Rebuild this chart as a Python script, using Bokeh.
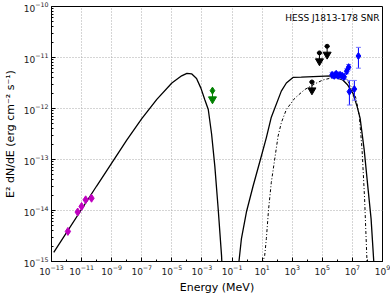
from bokeh.plotting import figure
from bokeh.models import FixedTicker, LogTickFormatter, Label
from bokeh.embed import file_html
from bokeh.resources import INLINE

# ---------------- data ----------------
# synchrotron model (solid)
sync_E = [1.41e-13, 1e-10, 1e-8, 1e-7, 1e-6, 1e-5, 4.47e-5, 1e-4, 2.04e-4, 4.37e-4,
          8.51e-4, 1.55e-3, 2.63e-3, 4.37e-3, 7.16e-3, 1.20e-2, 2.00e-2, 2.24e-2]
sync_F = [1.51e-15, 3.02e-14, 2.40e-13, 6.31e-13, 1.51e-12, 3.16e-12, 4.37e-12, 4.90e-12,
          4.79e-12, 3.89e-12, 2.51e-12, 1.48e-12, 9.55e-13, 3.16e-13, 7.41e-14, 1.07e-14,
          1.32e-15, 6.3e-16]
# inverse-Compton total (solid)
ic_E = [0.251, 0.288, 0.421, 0.902, 2.51, 8.91, 19.1, 40.7, 188, 407, 1122, 3981,
        3.89e5, 2.29e6, 4.90e6, 1.07e7, 2.04e7, 3.24e7, 6.03e7, 1.10e8, 1.74e8, 2.63e8, 2.82e8]
ic_F = [7.9e-16, 1.0e-15, 2.82e-15, 9.33e-15, 3.02e-14, 1.17e-13, 2.69e-13, 6.76e-13,
        2.19e-12, 3.16e-12, 4.07e-12, 4.12e-12, 4.37e-12, 3.63e-12, 2.88e-12, 2.0e-12,
        1.10e-12, 6.46e-13, 1.58e-13, 2.63e-14, 6.92e-15, 1.0e-15, 6.3e-16]
# second component (dash-dot)
dd_E = [10, 11.5, 14.8, 19.1, 26.9, 40.7, 115, 188, 407, 1445, 6607, 3.02e4, 1.10e5,
        8.32e5, 3.80e6, 8.13e6, 1.74e7, 2.88e7, 4.37e7, 6.46e7, 9.33e7, 1e8]
dd_F = [6.3e-16, 1.0e-15, 1.32e-15, 2.82e-15, 1.07e-14, 3.55e-14, 2.88e-13, 5.25e-13,
        9.55e-13, 1.58e-12, 2.34e-12, 3.02e-12, 3.63e-12, 4.17e-12, 3.98e-12, 2.69e-12,
        1.58e-12, 7.08e-13, 1.58e-13, 1.70e-14, 1.0e-15, 6.3e-16]
# radio points
radio_E = [1.23e-12, 5.5e-12, 1.0e-11, 1.86e-11, 4.57e-11]
radio_F = [3.89e-15, 9.33e-15, 1.20e-14, 1.62e-14, 1.74e-14]
# X-ray upper limit (green)
xul_E = [5.0e-3]
xul_F = [2.24e-12]
# GeV upper limits (black)
gul_E = [2.04e4, 6.46e4, 2.09e5]
gul_F = [3.31e-12, 1.23e-11, 1.66e-11]
gul_Elo = [1.36e4, 4.3e4, 1.39e5]
gul_Ehi = [3.06e4, 9.7e4, 3.14e5]
# HESS points (blue)
hess_E = [4.47e5, 6.17e5, 8.32e5, 1.12e6, 1.51e6, 2.09e6, 2.82e6, 4.17e6, 5.62e6,
          6.31e6, 1.35e7, 2.51e7]
hess_F = [4.57e-12, 4.37e-12, 4.79e-12, 4.37e-12, 4.57e-12, 4.37e-12, 4.17e-12,
          5.37e-12, 6.46e-12, 2.14e-12, 2.40e-12, 1.07e-11]
hess_Flo = [4.1e-12, 3.9e-12, 4.3e-12, 3.9e-12, 4.1e-12, 3.9e-12, 3.7e-12,
            4.8e-12, 5.7e-12, 1.17e-12, 1.45e-12, 6.17e-12]
hess_Fhi = [5.1e-12, 4.9e-12, 5.3e-12, 4.9e-12, 5.1e-12, 4.9e-12, 4.7e-12,
            6.0e-12, 7.3e-12, 3.55e-12, 3.55e-12, 1.58e-11]

x_major = [1e-13, 1e-11, 1e-9, 1e-7, 1e-5, 1e-3, 1e-1, 1e1, 1e3, 1e5, 1e7, 1e9]
x_minor = [10.0 ** k for k in range(-13, 10)]
y_major = [1e-15, 1e-14, 1e-13, 1e-12, 1e-11, 1e-10]
y_minor = [m * 10.0 ** k for k in range(-15, -10) for m in range(1, 10)]

# ---------------- figure ----------------
p = figure(width=390, height=296, x_axis_type="log", y_axis_type="log",
           x_range=(1e-13, 1e9), y_range=(1e-15, 1e-10),
           output_backend="svg", toolbar_location=None,
           min_border_left=50, min_border_right=8, min_border_top=6, min_border_bottom=33)
p.outline_line_color = "black"
p.outline_line_width = 1
p.background_fill_color = "white"
p.border_fill_color = "white"

font = "DejaVu Sans"
p.xaxis.ticker = FixedTicker(ticks=x_major, minor_ticks=x_minor)
p.yaxis.ticker = FixedTicker(ticks=y_major, minor_ticks=y_minor)
p.xaxis.formatter = LogTickFormatter()
p.yaxis.formatter = LogTickFormatter()
for ax in (p.xaxis[0], p.yaxis[0]):
    ax.major_tick_in = 4
    ax.major_tick_out = 0
    ax.minor_tick_in = 2
    ax.minor_tick_out = 0
    ax.axis_line_color = "black"
    ax.major_label_text_font = font
    ax.major_label_text_font_size = "9px"
    ax.major_label_text_color = "#222222"
    ax.axis_label_text_font = font
    ax.axis_label_text_font_style = "normal"
    ax.axis_label_text_font_size = "11px"
    ax.axis_label_text_color = "black"
p.xaxis.axis_label = "Energy (MeV)"
p.yaxis.axis_label = "E² dN/dE (erg cm⁻² s⁻¹)"
p.xaxis.major_label_standoff = 3
p.yaxis.major_label_standoff = 3
p.xaxis.axis_label_standoff = 3
p.yaxis.axis_label_standoff = 4

p.xgrid.grid_line_color = "#aaaaaa"
p.ygrid.grid_line_color = "#aaaaaa"
p.xgrid.grid_line_dash = "1 2"
p.ygrid.grid_line_dash = "1 2"

# model curves
p.line(sync_E, sync_F, line_color="black", line_width=1.3)
p.line(ic_E, ic_F, line_color="black", line_width=1.3)
p.line(dd_E, dd_F, line_color="black", line_width=1.0, line_dash="3 2 1 2")

# radio
p.scatter(radio_E, radio_F, marker="diamond", size=8, fill_color="#bf00bf",
          line_color="#bf00bf")

# green upper limit
xul_arrow = [f * 0.68 for f in xul_F]
p.segment(xul_E, xul_F, xul_E, xul_arrow, line_color="#008000", line_width=1)
p.scatter(xul_E, xul_F, marker="diamond", size=7, fill_color="#008000", line_color="#008000")
p.scatter(xul_E, xul_arrow, marker="inverted_triangle", size=8, fill_color="#008000",
          line_color="#008000")

# black upper limits
gul_arrow = [f * 0.69 for f in gul_F]
p.segment(gul_Elo, gul_F, gul_Ehi, gul_F, line_color="black", line_width=1)
p.segment(gul_E, gul_F, gul_E, gul_arrow, line_color="black", line_width=1)
p.scatter(gul_E, gul_F, marker="circle", size=4, fill_color="black", line_color="black")
p.scatter(gul_E, gul_arrow, marker="inverted_triangle", size=8, fill_color="black",
          line_color="black")

# HESS
p.segment(hess_E, hess_Flo, hess_E, hess_Fhi, line_color="#0000ff", line_width=1)
p.scatter(hess_E + hess_E, hess_Flo + hess_Fhi, marker="dash", size=5,
          line_color="#7777ff", line_width=1)
p.scatter(hess_E, hess_F, marker="diamond", size=7, fill_color="#0000ff",
          line_color="#0000ff")

p.add_layout(Label(x=1e9, y=1e-10, x_offset=-3, y_offset=-6, text="HESS J1813-178 SNR",
                   text_align="right", text_baseline="top", text_font=font,
                   text_font_size="9px", text_color="black"))

open("out.html", "w").write(file_html(p, INLINE))
